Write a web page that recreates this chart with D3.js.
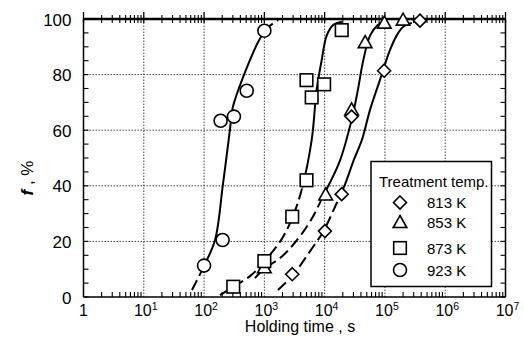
<!DOCTYPE html>
<html><head><meta charset="utf-8">
<script src="https://cdn.jsdelivr.net/npm/d3@7/dist/d3.min.js"></script>
<style>body{margin:0;background:#fff}svg{display:block;font-family:"Liberation Sans",Arial,sans-serif}</style>
</head><body>
<svg id="c" width="524" height="345"></svg>
<script>
// ---- data ----
const xTickExps = [0,1,2,3,4,5,6,7];
const yTicks = [0,20,40,60,80,100];
const legendTitle = "Treatment temp.";
const seriesNames = ["813 K","853 K","873 K","923 K"];
const seriesSymbols = ["diamond","triangle","square","circle"];
// measured points [time s, f %]
const pts813 = [[2900,8.2],[10100,23.7],[19200,37],[28000,64.9],[97000,81.4],[381000,99.4]];
const pts853 = [[1000,10.5],[10400,36.7],[28000,67.3],[47000,91.5],[97700,98.5],[200000,99.6]];
const pts873 = [[305,3.7],[1000,12.9],[2900,28.9],[5000,42],[5000,78],[6100,71.8],[9800,76.5],[19200,96]];
const pts923 = [[100,11.3],[203,20.5],[188,63.4],[313,64.9],[510,74.2],[1000,95.8]];
// fitted curves
const curve813 = [[1680,2.5],[2980,7.9],[6400,18],[9400,23.4],[15900,33.8],[21600,40.3],[30500,49.3],[41500,56.5],[56600,67.3],[82500,78],[121000,88.8],[158000,94.2],[199000,97.1],[280000,98.6]];
const curve853 = [[698,6.8],[1020,10.4],[1820,14],[2980,18.7],[5690,27],[9300,36],[17900,49],[28000,63.7],[35600,74.5],[43600,85],[56600,94],[76000,97.8],[100000,99.3]];
const curve873 = [[184,0.7],[300,3.6],[578,7.5],[1020,13],[1960,21],[2950,28.8],[4150,38.5],[6100,56.5],[7360,74.5],[8900,85],[10800,94],[13800,97.8],[19400,99]];
const curve923 = [[63,2.5],[100,11.2],[152,20.5],[205,40.3],[268,60],[300,68.3],[442,79],[847,93],[1150,97],[1700,99.6]];
// dashed below / solid between / dashed above (time s)
const solidRange813 = [20000, 1e8];
const solidRange853 = [9000, 1e8];
const solidRange873 = [4300, 1e8];
const solidRange923 = [100, 1000];

// ---- chart ----
const svg = d3.select("#c");
const x = d3.scaleLog().domain([1,1e7]).range([83.5,505.5]);
const y = d3.scaleLinear().domain([0,100]).range([297,19]);
const X0 = x.range()[0], X1 = x.range()[1], Y0 = y.range()[0], Y1 = y.range()[1];

// grid
const g = svg.append("g");
[1,2,3,4,5,6].forEach(e=>{
  g.append("line").attr("x1",x(10**e)).attr("x2",x(10**e)).attr("y1",Y0).attr("y2",Y1)
   .attr("stroke","#444").attr("stroke-width",1).attr("stroke-dasharray","1.5,1.5");
});
[20,40,60,80].forEach(v=>{
  g.append("line").attr("x1",X0).attr("x2",X1).attr("y1",y(v)).attr("y2",y(v))
   .attr("stroke","#444").attr("stroke-width",1).attr("stroke-dasharray","1.5,1.5");
});

// minor ticks
const minor = [];
for(let e=0;e<7;e++) for(let m=2;m<=9;m++) minor.push(m*10**e);
const ax = svg.append("g").attr("stroke","#000");
minor.forEach(v=>{
  ax.append("line").attr("x1",x(v)).attr("x2",x(v)).attr("y1",Y0).attr("y2",Y0-5).attr("stroke-width",1.1);
  ax.append("line").attr("x1",x(v)).attr("x2",x(v)).attr("y1",Y1-4).attr("y2",Y1+4).attr("stroke-width",1.1);
});
xTickExps.forEach(e=>{
  ax.append("line").attr("x1",x(10**e)).attr("x2",x(10**e)).attr("y1",Y1-7).attr("y2",Y1+4).attr("stroke-width",1.3);
});
d3.range(0,101,5).forEach(v=>{
  ax.append("line").attr("x1",X0).attr("x2",X0+5).attr("y1",y(v)).attr("y2",y(v)).attr("stroke-width",1.1);
  ax.append("line").attr("x1",X1).attr("x2",X1-5).attr("y1",y(v)).attr("y2",y(v)).attr("stroke-width",1.1);
});
// frame
ax.append("line").attr("x1",X0).attr("x2",X0).attr("y1",Y0).attr("y2",Y1).attr("stroke-width",1.5);
ax.append("line").attr("x1",X1).attr("x2",X1).attr("y1",Y0).attr("y2",Y1).attr("stroke-width",1.5);
ax.append("line").attr("x1",X0).attr("x2",X1).attr("y1",Y0).attr("y2",Y0).attr("stroke-width",1.5);
ax.append("line").attr("x1",X0).attr("x2",X1).attr("y1",Y1).attr("y2",Y1).attr("stroke-width",2.6);

// tick labels
yTicks.forEach(v=>{
  svg.append("text").attr("x",71.5).attr("y",y(v)+6.5).attr("text-anchor","end")
    .attr("font-size",17).text(v);
});
xTickExps.forEach(e=>{
  const t = svg.append("text").attr("x",x(10**e)+(e===0?0:2)).attr("y",316).attr("text-anchor","middle").attr("font-size",16);
  if(e===0){ t.text("1"); }
  else { t.append("tspan").text("10"); t.append("tspan").attr("dy",-6.5).attr("font-size",10.5).text(e); }
});
svg.append("text").attr("x",300).attr("y",332).attr("text-anchor","middle").attr("font-size",16).text("Holding time , s");
const yt = svg.append("text").attr("transform","translate(33,178) rotate(-90)").attr("text-anchor","middle").attr("font-size",17);
yt.append("tspan").attr("font-weight","bold").attr("font-style","italic").text("f");
yt.append("tspan").text(" ,  %");

// curves
const line = d3.line().x(d=>x(d[0])).y(d=>y(d[1])).curve(d3.curveCatmullRom.alpha(0.5));
const defs = svg.append("defs");
const curves = [[curve813,solidRange813],[curve853,solidRange853],[curve873,solidRange873],[curve923,solidRange923]];
curves.forEach((c,i)=>{
  const [pts,rng] = c;
  const a = x(rng[0]), b = Math.min(x(rng[1]), 600);
  defs.append("clipPath").attr("id","s"+i).append("rect").attr("x",a).attr("y",0).attr("width",b-a).attr("height",345);
  const cp = defs.append("clipPath").attr("id","d"+i);
  cp.append("rect").attr("x",0).attr("y",0).attr("width",a).attr("height",345);
  cp.append("rect").attr("x",b).attr("y",0).attr("width",600).attr("height",345);
  svg.append("path").attr("d",line(pts)).attr("fill","none").attr("stroke","#000").attr("stroke-width",2)
    .attr("clip-path","url(#s"+i+")");
  svg.append("path").attr("d",line(pts)).attr("fill","none").attr("stroke","#000").attr("stroke-width",2)
    .attr("stroke-dasharray","11,5").attr("clip-path","url(#d"+i+")");
});

// symbols
function sym(sel, type, cx, cy){
  let el;
  if(type==="circle") el = sel.append("circle").attr("cx",cx).attr("cy",cy).attr("r",6.5);
  else if(type==="square") el = sel.append("rect").attr("x",cx-6.3).attr("y",cy-6.3).attr("width",12.6).attr("height",12.6);
  else if(type==="triangle") el = sel.append("path").attr("d",`M${cx},${cy-7}L${cx+6.8},${cy+5}L${cx-6.8},${cy+5}Z`);
  else el = sel.append("path").attr("d",`M${cx},${cy-6.5}L${cx+6.5},${cy}L${cx},${cy+6.5}L${cx-6.5},${cy}Z`);
  el.attr("fill","#fff").attr("stroke","#000").attr("stroke-width",1.6);
}
const mk = svg.append("g");
[[pts853,"triangle"],[pts813,"diamond"],[pts873,"square"],[pts923,"circle"]].forEach(([p,t])=>{
  p.forEach(d=>sym(mk,t,x(d[0]),y(d[1])));
});

// legend
const lg = svg.append("g");
lg.append("rect").attr("x",371).attr("y",161.5).attr("width",120.5).attr("height",125).attr("fill","#fff").attr("stroke","#000").attr("stroke-width",1.5);
lg.append("text").attr("x",379).attr("y",187).attr("font-size",15).text(legendTitle);
const rowsY = [202.5,222.5,248,270];
seriesNames.forEach((n,i)=>{
  sym(lg, seriesSymbols[i], 400, rowsY[i]);
  lg.append("text").attr("x",427).attr("y",rowsY[i]+5.5).attr("font-size",15).text(n);
});
</script>
</body></html>
